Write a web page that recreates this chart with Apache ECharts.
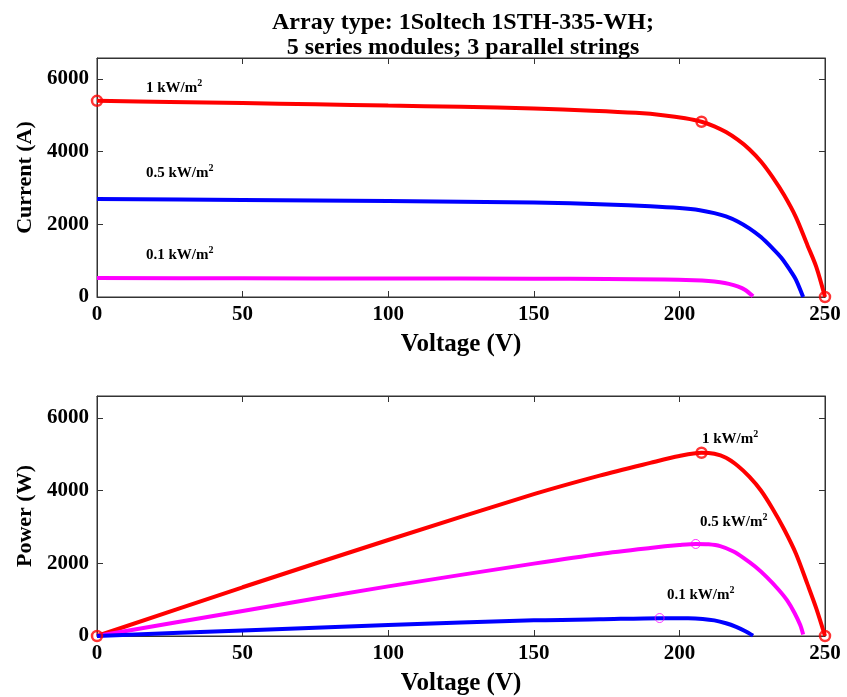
<!DOCTYPE html>
<html><head><meta charset="utf-8">
<script src="https://cdn.jsdelivr.net/npm/echarts@6/dist/echarts.min.js"></script>
<style>html,body{margin:0;padding:0;background:#fff}#c{width:847px;height:697px}</style>
</head><body><div id="c"></div>
<script>
// ---- Data ----
const titleLines = ['Array type: 1Soltech 1STH-335-WH;', '5 series modules; 3 parallel strings'];
const xTicks = [0, 50, 100, 150, 200, 250];
const yTicks = [0, 2000, 4000, 6000];
const irrLabels = ['1 kW/m²', '0.5 kW/m²', '0.1 kW/m²'];

// I-V curves (Voltage V, Current A)
const iv1V = [0, 25, 50, 75, 100, 125, 150, 170, 185, 195, 202, 207.6, 212, 216, 220, 224, 228, 232, 236, 240, 244, 247, 250];
const iv1I = [5400, 5370, 5340, 5305, 5270, 5235, 5190, 5130, 5070, 5000, 4920, 4825, 4700, 4540, 4330, 4070, 3730, 3300, 2800, 2200, 1420, 830, 0];
const iv05V = [0, 50, 100, 150, 175, 190, 200, 207, 212, 216, 220, 224, 228, 232, 235, 238, 240, 242.5];
const iv05I = [2700, 2670, 2640, 2600, 2550, 2500, 2450, 2390, 2310, 2220, 2080, 1890, 1650, 1340, 1080, 740, 480, 0];
const iv01V = [0, 50, 100, 150, 175, 195, 205, 210, 214, 217, 220, 222.5, 225.3];
const iv01I = [520, 515, 510, 503, 494, 480, 460, 440, 405, 360, 290, 200, 20];
const ivMarkV = [0, 207.6, 250];
const ivMarkI = [5400, 4825, 0];

// P-V curves (Voltage V, Power W)
const pv1V = [0, 50, 100, 150, 172.6, 190, 200, 207.6, 212, 216, 220, 224, 228, 232, 236, 240, 244, 247, 250];
const pv1P = [0, 1340, 2640, 3900, 4410, 4760, 4950, 5040, 5010, 4900, 4680, 4380, 4000, 3500, 2930, 2270, 1420, 760, 0];
const pv05V = [0, 50, 100, 150, 172.6, 190, 200, 205.6, 210, 214, 218.4, 222, 226, 230, 234, 237, 239.5, 241.5, 242.5];
const pv05P = [0, 690, 1365, 1990, 2257, 2420, 2500, 2531, 2520, 2470, 2330, 2150, 1910, 1620, 1280, 980, 640, 300, 40];
const pv01V = [0, 50, 100, 150, 172.6, 193.2, 203, 208, 212, 216, 219.5, 222.5, 225.3];
const pv01P = [0, 152, 302, 430, 458, 490, 488, 470, 430, 350, 250, 140, 10];
const pvMarkV = [0, 207.6, 250];
const pvMarkP = [0, 5040, 0];
const pvMpp05 = [205.6, 2531];
const pvMpp01 = [193.2, 494];

// ---- helpers ----
const zip = (a, b) => a.map((v, i) => [v, b[i]]);
const RED = '#ff0000', BLUE = '#0000ff', MAG = '#ff00ff';
const FONT = '"Liberation Serif", "DejaVu Serif", serif';

function xAx(gi, pos, show) {
  return {
    type: 'value', gridIndex: gi, position: pos, min: 0, max: 250, interval: 50,
    axisLine: { show: true, onZero: false, lineStyle: { color: '#333', width: 1 } },
    axisTick: { show: true, inside: true, length: 6, lineStyle: { color: '#333' } },
    axisLabel: { show: show, margin: 7, color: '#000', fontFamily: FONT, fontWeight: 'bold', fontSize: 21,
      formatter: v => String(v) },
    splitLine: { show: false },
    name: show ? 'Voltage (V)' : '', nameLocation: 'middle', nameGap: 35,
    nameTextStyle: { color: '#000', fontFamily: FONT, fontWeight: 'bold', fontSize: 25 }
  };
}
function yAx(gi, pos, show, max, name) {
  return {
    type: 'value', gridIndex: gi, position: pos, min: 0, max: max, interval: 2000,
    axisLine: { show: true, onZero: false, lineStyle: { color: '#333', width: 1 } },
    axisTick: { show: true, inside: true, length: 6, lineStyle: { color: '#333' } },
    axisLabel: { show: show, showMaxLabel: false, margin: 8, color: '#000', fontFamily: FONT, fontWeight: 'bold', fontSize: 21,
      formatter: v => String(v) },
    splitLine: { show: false },
    name: show ? name : '', nameLocation: 'middle', nameGap: 51,
    nameTextStyle: { color: '#000', fontFamily: FONT, fontWeight: 'bold', fontSize: 22 }
  };
}
function line(xi, yi, data, color) {
  return { type: 'line', xAxisIndex: xi, yAxisIndex: yi, data: data, showSymbol: false, smooth: 0.3,
    lineStyle: { color: color, width: 4 }, z: 3, silent: true };
}
function marks(xi, yi, data, color, size, w) {
  return { type: 'scatter', xAxisIndex: xi, yAxisIndex: yi, data: data, symbol: 'circle', symbolSize: size,
    itemStyle: { color: 'rgba(255,255,255,0)', borderColor: color, borderWidth: w }, z: 5, silent: true };
}
function lbl(text, x, y) {
  const parts = text.split('²');
  return { type: 'text', x: x, y: y,
    style: { text: '{n|' + parts[0] + '}{s|2}', verticalAlign: 'middle',
      rich: {
        n: { fontFamily: FONT, fontWeight: 'bold', fontSize: 15, fill: '#000', lineHeight: 18, verticalAlign: 'bottom' },
        s: { fontFamily: FONT, fontWeight: 'bold', fontSize: 10, fill: '#000', lineHeight: 18, verticalAlign: 'top' }
      } } };
}

const chart = echarts.init(document.getElementById('c'));
chart.setOption({
  animation: false,
  backgroundColor: '#fff',
  title: {
    text: titleLines.join('\n'), left: 458, top: 5, textAlign: 'center',
    textStyle: { fontFamily: FONT, fontWeight: 'bold', fontSize: 24, lineHeight: 25, color: '#000' }
  },
  grid: [
    { left: 97, right: 22, top: 58, height: 239, show: true, borderColor: '#333', borderWidth: 1, containLabel: false },
    { left: 97, right: 22, top: 396, height: 241, show: true, borderColor: '#333', borderWidth: 1, containLabel: false }
  ],
  xAxis: [xAx(0, 'bottom', true), xAx(0, 'top', false), xAx(1, 'bottom', true), xAx(1, 'top', false)],
  yAxis: [yAx(0, 'left', true, 6580, 'Current (A)'), yAx(0, 'right', false, 6580, ''),
          yAx(1, 'left', true, 6600, 'Power (W)'), yAx(1, 'right', false, 6600, '')],
  series: [
    line(0, 0, zip(iv1V, iv1I), RED),
    line(0, 0, zip(iv05V, iv05I), BLUE),
    line(0, 0, zip(iv01V, iv01I), MAG),
    marks(0, 0, zip(ivMarkV, ivMarkI), RED, 10, 2.5),
    line(2, 2, zip(pv1V, pv1P), RED),
    line(2, 2, zip(pv05V, pv05P), MAG),
    line(2, 2, zip(pv01V, pv01P), BLUE),
    marks(2, 2, zip(pvMarkV, pvMarkP), RED, 10, 2.5),
    marks(2, 2, [pvMpp05, pvMpp01], MAG, 9, 1)
  ],
  graphic: [
    lbl(irrLabels[0], 146, 87),
    lbl(irrLabels[1], 146, 172),
    lbl(irrLabels[2], 146, 254),
    lbl(irrLabels[0], 702, 438),
    lbl(irrLabels[1], 700, 521),
    lbl(irrLabels[2], 667, 594)
  ]
});
</script></body></html>
